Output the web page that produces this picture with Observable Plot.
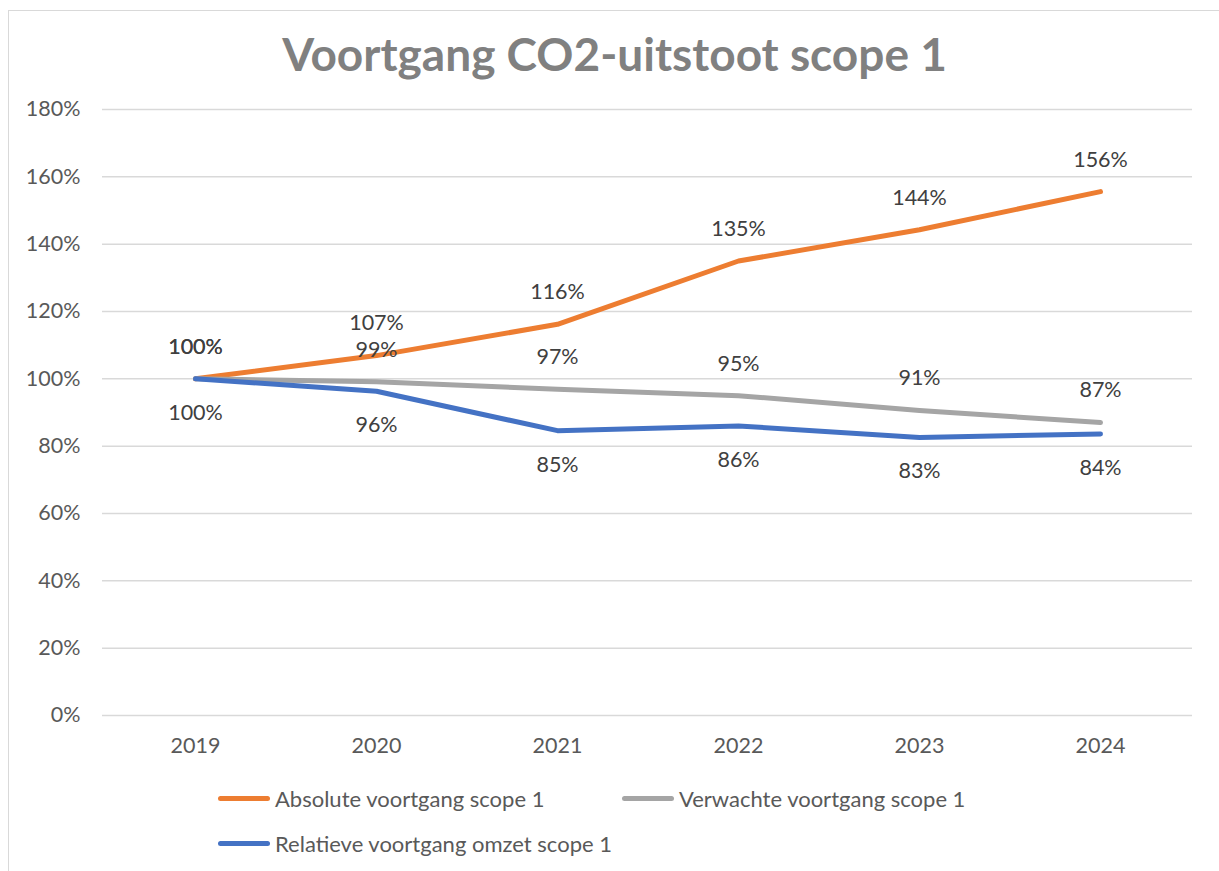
<!DOCTYPE html>
<html>
<head>
<meta charset="utf-8">
<script src="https://cdn.jsdelivr.net/npm/d3@7"></script>
<script src="https://cdn.jsdelivr.net/npm/@observablehq/plot@0.6"></script>
<style>
  html, body { margin: 0; padding: 0; background: #fff; width: 1219px; height: 871px; overflow: hidden; }
  body { position: relative; font-family: Lato, "Open Sans", sans-serif; }
  #frame { position: absolute; left: 8px; top: 10px; width: 1240px; height: 900px; border: 1.5px solid #d9d9d9; box-sizing: border-box; }
  #title { position: absolute; left: 0; width: 1229px; top: 26px; text-align: center; font-size: 46px; font-weight: bold; color: #808080; line-height: 56px; }
  #chart { position: absolute; left: 0; top: 80px; }
  .leg { position: absolute; display: flex; align-items: center; font-size: 22px; color: #595959; height: 26px; }
  .sw { width: 52px; height: 5px; border-radius: 3px; margin-right: 5px; }
</style>
</head>
<body>
<div id="frame"></div>
<div id="title">Voortgang CO2-uitstoot scope 1</div>
<div id="chart"></div>
<div id="legend"></div>
<script>
const years = ["2019", "2020", "2021", "2022", "2023", "2024"];
const seriesNames = ["Absolute voortgang scope 1", "Verwachte voortgang scope 1", "Relatieve voortgang omzet scope 1"];
const seriesColors = ["#ED7D31", "#A5A5A5", "#4472C4"];
const absoluteValues = [100, 106.9, 116.2, 135.0, 144.3, 155.6];
const expectedValues = [100, 99.1, 96.9, 95.0, 90.6, 87.0];
const relativeValues = [100, 96.3, 84.6, 86.0, 82.6, 83.6];
const yTicks = [0, 20, 40, 60, 80, 100, 120, 140, 160, 180];

const valueSets = [absoluteValues, expectedValues, relativeValues];
const labelAbove = [true, true, false];
const data = [];
seriesNames.forEach((s, k) => {
  years.forEach((y, i) => data.push({ series: s, year: y, value: valueSets[k][i], above: labelAbove[k] }));
});

const fmt = d => Math.round(d) + "%";
const fs = 21.5;

const chart = Plot.plot({
  width: 1219,
  height: 690,
  marginLeft: 102,
  marginRight: 27,
  marginTop: 29,
  marginBottom: 55,
  style: { fontFamily: "Lato, sans-serif", fontSize: fs + "px", background: "transparent" },
  x: { type: "point", domain: years, padding: 0.5, label: null },
  y: { domain: [0, 180], label: null },
  color: { domain: seriesNames, range: seriesColors },
  marks: [
    Plot.gridY(yTicks, { stroke: "#d9d9d9", strokeOpacity: 1, strokeWidth: 1.5 }),
    Plot.axisY(yTicks, { tickSize: 0, tickPadding: 22, tickFormat: d => d + "%", fill: "#595959", fontSize: fs, label: null }),
    Plot.axisX({ tickSize: 0, tickPadding: 22, fill: "#595959", fontSize: fs, label: null }),
    Plot.line(data, { x: "year", y: "value", z: "series", stroke: "series", strokeWidth: 5, strokeLinecap: "round", strokeLinejoin: "round" }),
    Plot.text(data.filter(d => d.above), { x: "year", y: "value", text: d => fmt(d.value), dy: -32, fill: "#404040", fontSize: fs }),
    Plot.text(data.filter(d => !d.above), { x: "year", y: "value", text: d => fmt(d.value), dy: 34, fill: "#404040", fontSize: fs })
  ]
});
document.getElementById("chart").appendChild(chart);

const legendPos = [[218, 785], [622, 785], [218, 830]];
const legend = document.getElementById("legend");
seriesNames.forEach((s, k) => {
  const item = document.createElement("div");
  item.className = "leg";
  item.style.left = legendPos[k][0] + "px";
  item.style.top = legendPos[k][1] + "px";
  const sw = document.createElement("div");
  sw.className = "sw";
  sw.style.background = seriesColors[k];
  const t = document.createElement("span");
  t.textContent = s;
  item.appendChild(sw);
  item.appendChild(t);
  legend.appendChild(item);
});
</script>
</body>
</html>
